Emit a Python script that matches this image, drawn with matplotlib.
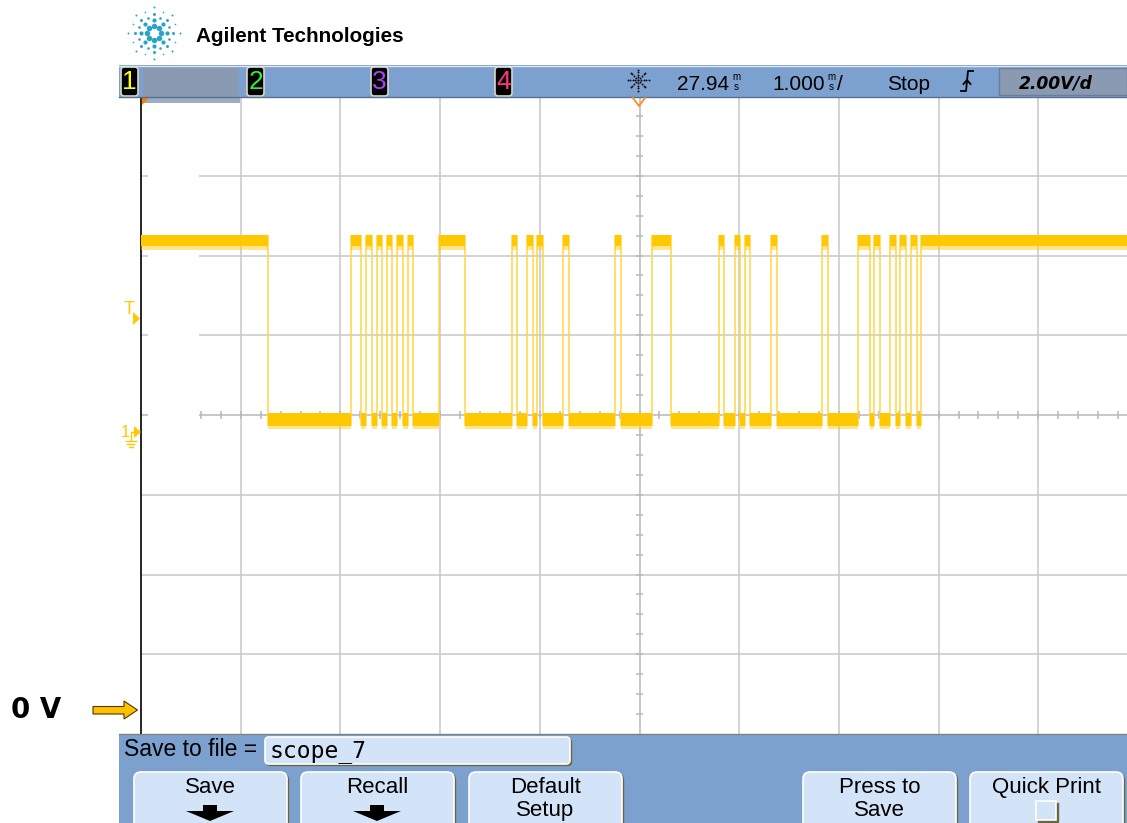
import numpy as np
import matplotlib
matplotlib.use("Agg")
import matplotlib.pyplot as plt
from matplotlib.patches import Rectangle, FancyBboxPatch, Polygon

W, H = 1127, 823

# ---- 示波器设置 ----
t_center = 27.94      # 延迟 (ms)
t_div = 1.0           # 1.000 ms/div
v_div = 2.0           # 2.00 V/div
v_center = 0.43       # 屏幕中心电压 (V)

# 高电平区间 (ms)，其余为低电平
high_start = [22.94, 25.046, 25.197, 25.307, 25.407, 25.508, 25.618, 25.929,
              26.658, 26.815, 26.915, 27.176, 27.694, 28.062, 28.740, 28.893,
              28.998, 29.256, 29.767, 30.135, 30.295, 30.452, 30.553, 30.664,
              30.764]
high_end = [24.214, 25.147, 25.257, 25.357, 25.458, 25.568, 25.668, 26.190,
            26.708, 26.867, 26.969, 27.228, 27.751, 28.256, 28.791, 28.948,
            29.051, 29.316, 29.834, 30.252, 30.352, 30.513, 30.613, 30.721,
            32.94]

# 电平带 (V): 噪声下沿, 实心下沿, 上沿
level_high = [4.58, 4.66, 4.95]
level_low = [0.08, 0.16, 0.47]

channels = ["1", "2", "3", "4"]
channel_colors = ["#FFFF00", "#33EE33", "#B040FF", "#FF3377"]
softkeys = [["Save"], ["Recall"], ["Default", "Setup"], ["Press to", "Save"], ["Quick Print"]]

UI = "Liberation Sans"
TRACE = "#FFC800"

fig = plt.figure(figsize=(W / 100, H / 100), dpi=100)
fig.patch.set_facecolor("white")
renderer = fig.canvas.get_renderer()

# ---- 波形区 ----
t0 = t_center - 5 * t_div
t1 = t_center + 5 * t_div
ax = fig.add_axes([141 / W, (H - 734) / H, 997 / W, 638 / H])
ax.set_xlim(t0, t1)
ax.set_ylim(v_center - 4 * v_div, v_center + 4 * v_div)
ax.set_xticks([])
ax.set_yticks([])
for s in ["top", "right", "bottom"]:
    ax.spines[s].set_visible(False)
ax.spines["left"].set_color("black")
ax.spines["left"].set_linewidth(1.2)

grid_c = "#C8C8C8"
ax.vlines([t0 + k * t_div for k in range(1, 10) if k != 5],
          v_center - 4 * v_div, v_center + 4 * v_div, colors=grid_c, lw=1.1, zorder=1)
ax.vlines(t_center, v_center - 4 * v_div, v_center + 4 * v_div, colors="#B8B8B8", lw=1.1, zorder=1)
gap_end = t0 + 0.58
for j in range(-3, 4):
    v = v_center + j * v_div
    col = "#B8B8B8" if j == 0 else grid_c
    if j >= 0:
        ax.hlines(v, gap_end, t1, colors=col, lw=1.1, zorder=1)
        ax.hlines(v, t0, t0 + 0.07, colors=col, lw=1.1, zorder=1)
    else:
        ax.hlines(v, t0, t1, colors=col, lw=1.1, zorder=1)

# 中心轴细分刻度
ht = [t0 + 0.2 * k for k in range(1, 50) if t0 + 0.2 * k > gap_end]
ax.vlines(ht, v_center - 0.1, v_center + 0.1, colors="#B8B8B8", lw=1.1, zorder=1)
vt = [v_center + 0.5 * k for k in range(-15, 16)]
ax.hlines(vt, t_center - 0.04, t_center + 0.04, colors="#B8B8B8", lw=1.1, zorder=1)

# 波形
highs = [(s, e - s) for s, e in zip(high_start, high_end)]
lows = [(e, s - e) for e, s in zip(high_end[:-1], high_start[1:])]
edges = high_end[:-1] + high_start[1:]
ax.vlines(edges, level_low[1], level_high[2], colors="#FFD448", lw=1.1, zorder=3)
ax.broken_barh(highs, (level_high[1], level_high[2] - level_high[1]),
               facecolors=TRACE, linewidth=0, zorder=4)
ax.broken_barh(highs, (level_high[0], level_high[1] - level_high[0]),
               facecolors=TRACE, alpha=0.45, linewidth=0, zorder=4)
ax.broken_barh(lows, (level_low[1], level_low[2] - level_low[1]),
               facecolors=TRACE, linewidth=0, zorder=4)
ax.broken_barh(lows, (level_low[0], level_low[1] - level_low[0]),
               facecolors=TRACE, alpha=0.45, linewidth=0, zorder=4)

# ---- 界面覆盖层 (像素坐标) ----
ov = fig.add_axes([0, 0, 1, 1], zorder=5)
ov.set_xlim(0, W)
ov.set_ylim(H, 0)
ov.axis("off")


def label(x, y, s, size, width=None, family=UI, **kw):
    t = ov.text(x, y, s, fontsize=size, family=family, **kw)
    if width:
        w = t.get_window_extent(renderer).width
        t.set_fontsize(size * np.clip(width / w, 0.6, 1.4))
    return t


def soft_box(x, y, w, h, r=6):
    style = f"round,pad=0,rounding_size={r}" if r else "square,pad=0"
    ov.add_patch(FancyBboxPatch((x + 1.5, y + 1.5), w, h, boxstyle=style,
                                fc="#6B6640", ec="#6B6640", lw=1))
    ov.add_patch(FancyBboxPatch((x, y), w, h, boxstyle=style,
                                fc="#D3E4F8", ec="white", lw=1.2))


# Agilent 标志
cx, cy = 154, 33
for ang in np.arange(0, 360, 45):
    a = np.radians(ang)
    for r, d in zip([7, 13, 19, 26], [5.5, 4.2, 3.0, 2.0]):
        ov.scatter(cx + r * np.cos(a), cy + r * np.sin(a), s=(d * 0.72) ** 2,
                   color="#2AA3C9", lw=0)
for ang in np.arange(22.5, 360, 45):
    a = np.radians(ang)
    for r, d in zip([16, 23], [2.6, 1.6]):
        ov.scatter(cx + r * np.cos(a), cy + r * np.sin(a), s=(d * 0.72) ** 2,
                   color="#2AA3C9", lw=0)
label(196, 42, "Agilent Technologies", 15, width=208, weight="bold",
      ha="left", va="baseline", color="black")

# 顶部状态栏
bar_blue = "#7DA1CF"
ov.add_patch(Rectangle((119, 65), W - 119, 32, fc=bar_blue, ec="none"))
ov.plot([119, W], [65.5, 65.5], color="#DCE6F2", lw=1)
ov.plot([119, W], [97, 97], color="#56708F", lw=1)
ov.add_patch(Rectangle((143, 67), 95, 30, fc="#8A9AB2", ec="none"))
ov.add_patch(Rectangle((143, 97), 97, 6, fc="#9CACC4", ec="none"))

for ch, x, c in zip(channels, [121, 247, 371, 495], channel_colors):
    ov.add_patch(FancyBboxPatch((x, 67), 17, 29, boxstyle="round,pad=0,rounding_size=3",
                                fc="black", ec="#D8D8C8", lw=1.2))
    label(x + 8.5, 82, ch, 19, color=c, ha="center", va="center")

# 采集图标
sx, sy = 638, 80
for ang in np.arange(0, 360, 45):
    a = np.radians(ang)
    rr = np.array([3, 5.5, 8, 10.5])
    ov.scatter(sx + rr * np.cos(a), sy + rr * np.sin(a), s=1.8, color="black", lw=0)
ov.scatter([sx], [sy], s=2.5, color="black", lw=0)

label(677, 90, "27.94", 15, ha="left", va="baseline", color="black")
label(736, 77, "m", 7, ha="center", va="center", color="black")
label(736, 87, "s", 7, ha="center", va="center", color="black")
label(772, 90, "1.000", 15, ha="left", va="baseline", color="black")
label(831, 77, "m", 7, ha="center", va="center", color="black")
label(831, 87, "s", 7, ha="center", va="center", color="black")
label(837, 90, "/", 15, ha="left", va="baseline", color="black")
label(887, 90, "Stop", 15, ha="left", va="baseline", color="black")
ov.plot([961, 966, 968, 973], [91, 91, 71, 71], color="black", lw=1.3)
ov.plot([963.5, 967, 970.5], [84, 80, 84], color="black", lw=1.3)
ov.add_patch(Rectangle((999, 68), W - 999, 27, fc="#8A9AB2", ec="#6C7D99", lw=1))
label(1019, 83, "2.00V/d", 12, width=74, family="DejaVu Sans", weight="bold",
      style="italic", ha="left", va="center", color="black")

# 波形区标记
ov.add_patch(Polygon([(142, 98), (149, 98), (142, 105)], closed=True, fc="#FF8000", ec="none"))
ov.plot([633, 639, 645], [98, 106, 98], color="#FF8C1A", lw=1.3)
label(129, 310, "T", 13, color=TRACE, ha="center", va="center")
ov.add_patch(Polygon([(133, 312), (140, 318.5), (133, 325)], closed=True, fc=TRACE, ec="none"))
label(125, 432, "1", 12, color=TRACE, ha="center", va="center")
ov.add_patch(Polygon([(134, 426), (141, 432), (134, 438)], closed=True, fc=TRACE, ec="none"))
ov.plot([130.5, 130.5, 134], [440, 432, 432], color=TRACE, lw=1)
for yy, hw in zip([440.5, 443.5, 446.5], [5, 3.5, 2]):
    ov.plot([130.5 - hw, 130.5 + hw], [yy, yy], color=TRACE, lw=1)

# 0 V 注释
label(11, 718, "0 V", 20, width=50, family="DejaVu Sans", weight="bold",
      ha="left", va="baseline", color="black")
ov.add_patch(Polygon([(93, 706.5), (124, 706.5), (124, 701), (137.5, 710),
                      (124, 719), (124, 714), (93, 714)], closed=True,
                     fc="#FFC000", ec="#4A3A00", lw=0.8))

# 底部面板
ov.add_patch(Rectangle((119, 734), W - 119, H - 734, fc=bar_blue, ec="none"))
ov.plot([119, W], [734, 734], color="#808080", lw=1)
label(124, 756, "Save to file =", 16.5, ha="left", va="baseline", color="black")
soft_box(265, 737, 305, 27, r=4)
label(270, 757, "scope_7", 16, width=97, family="DejaVu Sans Mono",
      ha="left", va="baseline", color="black")

key_x = [134, 301, 469, 803, 970]
for x, lines in zip(key_x, softkeys):
    soft_box(x, 772, 153, 60, r=7)
    mid = x + 76.5
    for ln, yb in zip(lines, [793, 816]):
        label(mid, yb, ln, 16, ha="center", va="baseline", color="black")
for mid in [210, 377]:
    ov.add_patch(Polygon([(mid - 7, 805), (mid + 7, 805), (mid + 7, 811), (mid + 24, 811),
                          (mid, 821), (mid - 24, 811), (mid - 7, 811)], closed=True,
                         fc="black", ec="none"))
soft_box(1036, 801, 20, 19, r=0)

fig.savefig("out.png", dpi=100)
